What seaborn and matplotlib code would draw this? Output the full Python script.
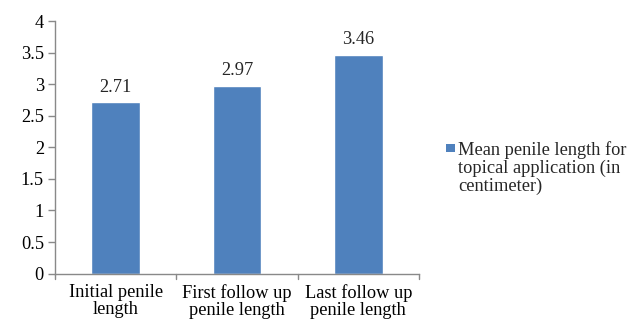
import matplotlib
matplotlib.use("Agg")
import matplotlib.pyplot as plt
import seaborn as sns
import pandas as pd
from matplotlib.patches import Rectangle

categories = ["Initial penile\nlength", "First follow up\npenile length", "Last follow up\npenile length"]
values = [2.71, 2.97, 3.46]
series_name = "Mean penile length for\ntopical application (in\ncentimeter)"
y_ticks = [0, 0.5, 1, 1.5, 2, 2.5, 3, 3.5, 4]

sns.set_theme(style="white")
plt.rcParams["font.family"] = ["Liberation Serif", "DejaVu Serif"]

bar_color = "#4F81BD"
axis_color = "#898989"
fs = 13.2

df = pd.DataFrame({"category": categories, "value": values})

W, H = 639, 322
fig = plt.figure(figsize=(W / 100, H / 100), dpi=100)
ax = fig.add_axes([55 / W, 1 - 273.6 / H, 364 / W, 252.6 / H])

sns.barplot(data=df, x="category", y="value", color=bar_color, width=0.4,
            saturation=1, ax=ax)

ax.set_ylim(0, 4)
ax.set_xlim(-0.5, 2.5)
ax.set_yticks(y_ticks)
ax.set_yticklabels([f"{t:g}" for t in y_ticks])
ax.set_xlabel("")
ax.set_ylabel("")

for spine in ["top", "right"]:
    ax.spines[spine].set_visible(False)
for spine in ["left", "bottom"]:
    ax.spines[spine].set_color(axis_color)
    ax.spines[spine].set_linewidth(1.0)

ax.tick_params(axis="y", which="both", left=True, length=5, width=1,
               color=axis_color, labelsize=fs, pad=3, colors="black")
ax.tick_params(axis="x", bottom=False, labelsize=fs, pad=1.5, colors="black")
for lbl in ax.get_xticklabels():
    lbl.set_linespacing(0.98)

# category boundary tick marks on the x axis
for b in [-0.5, 0.5, 1.5, 2.5]:
    ax.plot([b, b], [0, -0.09], color=axis_color, lw=1, clip_on=False)

for i, v in enumerate(values):
    ax.text(i, v + 0.11, f"{v:.2f}", ha="center", va="bottom", fontsize=fs)

# legend: colour key aligned with the first line of the wrapped label
fig.patches.append(Rectangle((446 / W, 1 - 152 / H), 9 / W, 8 / H,
                             transform=fig.transFigure, facecolor=bar_color,
                             edgecolor="none"))
fig.text(458 / W, 1 - 141 / H, series_name, ha="left", va="top",
         fontsize=fs, linespacing=1.06)

fig.savefig("out.png", dpi=100)
